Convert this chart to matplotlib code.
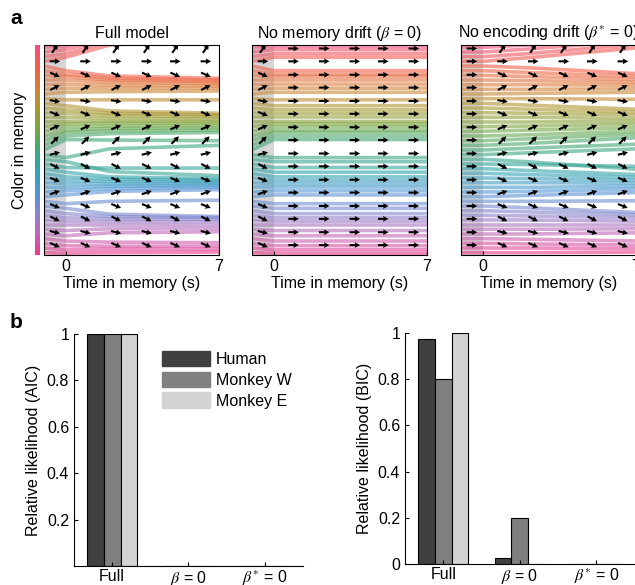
import numpy as np
import matplotlib.pyplot as plt
from matplotlib.colors import LinearSegmentedColormap
from matplotlib.patches import Patch

plt.rcParams['font.family'] = ['Liberation Sans', 'DejaVu Sans']
plt.rcParams['mathtext.fontset'] = 'stix'
plt.rcParams['font.size'] = 11

# color wheel (bottom = 0 deg, top = 360 deg)
wheel_colors = ['#f0388c', '#c068b8', '#8a84cc', '#5096d4', '#30a4b0', '#40a878',
                '#78a840', '#a89830', '#d88038', '#f06048', '#f04c7c']
wheel = LinearSegmentedColormap.from_list('wheel', wheel_colors)

# trajectories: color in memory (deg) at t = -1, 0, 2, 7 s
path_t = [-1, 0, 2, 7]
start_deg = [4, 12, 20, 28, 36, 44, 52, 60, 68, 76, 84, 92, 100, 108, 116, 124, 132, 140,
             148, 156, 164, 172, 180, 188, 196, 204, 212, 220, 228, 236, 244, 252, 260, 268,
             276, 284, 292, 300, 308, 316, 324, 332, 340, 348, 356]
enc_deg = [3, 9, 16, 24, 33, 42, 52, 58, 64, 71, 80, 88, 103, 110, 116, 122, 128, 134,
           142, 150, 160, 167, 198, 204, 210, 214, 220, 225, 229, 236, 243, 249, 256, 266,
           279, 286, 293, 300, 306, 310, 316, 339, 345, 352, 358]
full_mid = [4, 10, 15, 22, 38, 45, 52, 57, 62, 66, 70, 92, 109, 114, 118, 122, 126, 130,
            134, 149, 143, 182, 197, 208, 213, 217, 221, 226, 229, 234, 239, 243, 247, 266,
            280, 286, 291, 296, 300, 303, 307, 360, 366, 372, 377]
full_end = [5, 10, 15, 21, 40, 46, 52, 57, 61, 64, 66, 94, 112, 116, 119, 122, 125, 128,
            131, 149, 136, 188, 196, 210, 214, 218, 222, 226, 229, 233, 237, 240, 243, 266,
            281, 286, 290, 294, 297, 300, 303, 370, 375, 380, 385]
noenc_mid = [4, 12, 19, 27, 36, 44, 52, 60, 67, 74, 81, 92, 102, 109, 116, 124, 131, 138,
             145, 155, 160, 175, 183, 191, 199, 206, 214, 221, 228, 236, 243, 250, 257, 268,
             277, 284, 292, 299, 306, 313, 321, 338, 345, 353, 360]
noenc_end = [5, 11, 17, 24, 38, 45, 52, 58, 64, 69, 73, 93, 107, 113, 118, 123, 128, 133,
             138, 152, 147, 182, 190, 201, 207, 212, 218, 224, 229, 234, 240, 245, 250, 267,
             279, 285, 291, 296, 301, 306, 311, 355, 361, 367, 373]

# drift field arrows
arrow_x = [-0.5, 0.9, 2.3, 3.7, 5.0, 6.4]
arrow_y = [354, 332, 309, 287, 264, 242, 219, 197, 174, 152, 129, 107, 84, 62, 39, 17]
drift_angle = [56, 0, -24, 27, -9, -22, 24, 45, 14, -27, -22, 19, -22, -27, -14, -24]

panel_titles = ['Full model', r'No memory drift ($\beta$ = 0)', r'No encoding drift ($\beta^{*}$ = 0)']
panel_paths = [[start_deg, enc_deg, full_mid, full_end],
               [start_deg, enc_deg, enc_deg, enc_deg],
               [start_deg, start_deg, noenc_mid, noenc_end]]
enc_drift = [True, True, False]
mem_drift = [True, False, True]

# model comparison
models = ['Full', r'$\beta$ = 0', r'$\beta^{*}$ = 0']
groups = ['Human', 'Monkey W', 'Monkey E']
group_colors = ['#404040', '#808080', '#d3d3d3']
aic = [[1.0, 0.0, 0.0], [1.0, 0.0, 0.0], [1.0, 0.0, 0.0]]
bic = [[0.975, 0.025, 0.0], [0.80, 0.20, 0.0], [1.0, 0.0, 0.0]]

W, H = 635, 585
fig = plt.figure(figsize=(W / 100, H / 100), dpi=100)


def box(x0, y0, x1, y1):
    return [x0 / W, 1 - y1 / H, (x1 - x0) / W, (y1 - y0) / H]


# colour bar
cax = fig.add_axes(box(35, 45, 40, 255))
cax.imshow(np.linspace(0, 1, 256)[:, None], origin='lower', aspect='auto', cmap=wheel)
cax.axis('off')

lefts = [44, 252, 461]
for k in range(3):
    ax = fig.add_axes(box(lefts[k], 45, lefts[k] + 175, 255))
    ax.axvspan(-1, 0, color='#d6d6d6', lw=0, zorder=0)
    p = panel_paths[k]
    for i in range(len(start_deg)):
        ax.plot(path_t, [p[0][i], p[1][i], p[2][i], p[3][i]],
                color=wheel(start_deg[i] / 360), lw=2.6, alpha=0.6, zorder=1)
    for j, x in enumerate(arrow_x):
        drift = enc_drift[k] if j == 0 else mem_drift[k]
        ang = np.radians(drift_angle) if drift else np.zeros(len(arrow_y))
        ax.quiver([x] * len(arrow_y), arrow_y, np.cos(ang), np.sin(ang), angles='uv',
                  pivot='middle', scale_units='inches', scale=9.5, width=0.012,
                  headwidth=2.8, headlength=2.6, headaxislength=2.3, color='k', zorder=3)
    ax.set_xlim(-1, 7)
    ax.set_ylim(0, 360)
    ax.set_xticks([0, 7])
    ax.set_yticks([])
    ax.tick_params(direction='in', length=3, pad=3, labelsize=11.5)
    ax.set_title(panel_titles[k], fontsize=11.5, pad=5)
    ax.set_xlabel('Time in memory (s)', labelpad=1, fontsize=11.5)

fig.text(20 / W, 1 - 150 / H, 'Color in memory', rotation=90, ha='center', va='center',
         fontsize=11.5)
fig.text(10 / W, 1 - 18 / H, 'a', fontsize=15, fontweight='bold', va='center')
fig.text(10 / W, 1 - 322 / H, 'b', fontsize=15, fontweight='bold', va='center')

xpos = np.arange(1, 4)
bw = 0.22
for k, (vals, lab) in enumerate([(aic, 'AIC'), (bic, 'BIC')]):
    if k == 0:
        ax = fig.add_axes(box(74, 334, 303, 566))
    else:
        ax = fig.add_axes(box(405, 333, 634.5, 564))
    for g in range(3):
        ax.bar(xpos + (g - 1) * bw, vals[g], width=bw, color=group_colors[g],
               edgecolor='k', lw=0.8, label=groups[g])
    ax.set_xlim(0.5, 3.5)
    ax.set_ylim(0, 1)
    ax.set_xticks(xpos)
    ax.set_xticklabels(models)
    if k == 0:
        ax.set_yticks([0.2, 0.4, 0.6, 0.8, 1])
        ax.set_yticklabels(['0.2', '0.4', '0.6', '0.8', '1'])
    else:
        ax.set_yticks([0, 0.2, 0.4, 0.6, 0.8, 1])
        ax.set_yticklabels(['0', '0.2', '0.4', '0.6', '0.8', '1'])
    ax.spines['top'].set_visible(False)
    ax.spines['right'].set_visible(False)
    ax.tick_params(direction='in', length=3, labelsize=11.5)
    ax.tick_params(axis='x', pad=2)
    ax.set_ylabel('Relative likelihood (%s)' % lab, fontsize=11.5)
    if k == 0:
        handles = [Patch(color=c) for c in group_colors]
        ax.legend(handles, groups, loc='upper left', bbox_to_anchor=(0.32, 0.99),
                  frameon=False, handlelength=3.0, handleheight=1.1, labelspacing=0.3,
                  handletextpad=0.4, fontsize=11.5)

plt.savefig('out.png', dpi=100)
